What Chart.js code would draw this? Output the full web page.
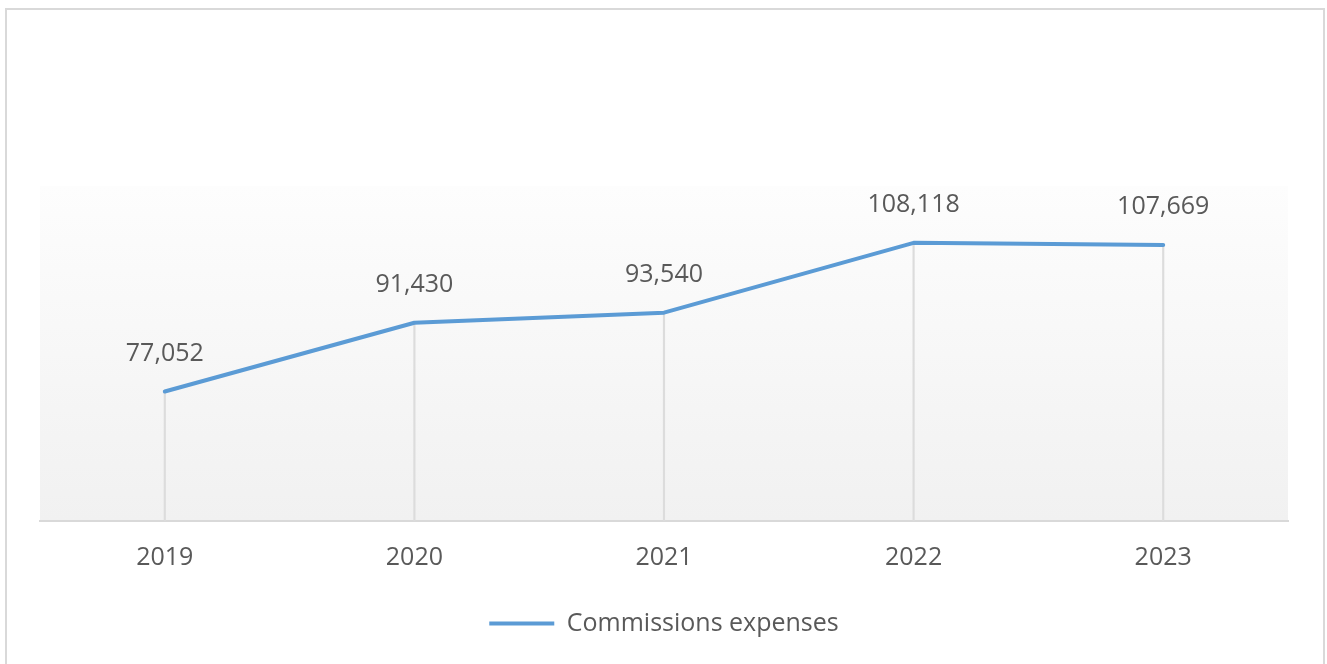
<!DOCTYPE html>
<html lang="en">
<head>
    <meta charset="UTF-8">
    <title>Commissions expenses</title>
    <script src="https://cdn.jsdelivr.net/npm/chart.js"></script>
    <style>
        html, body {
            margin: 0;
            padding: 0;
            background: #fff;
            overflow: hidden;
        }
        .frame {
            position: absolute;
            left: 5px;
            top: 8px;
            width: 1316px;
            height: 680px;
            border: 2px solid #d9d9d9;
        }
        .chart-container {
            position: absolute;
            left: 0;
            top: 0;
            width: 1327px;
            height: 664px;
        }
    </style>
</head>
<body>

<div class="frame"></div>
<div class="chart-container">
    <canvas id="commissionsChart" width="1327" height="664"></canvas>
</div>

<script>
const years = ['2019', '2020', '2021', '2022', '2023'];
const commissions = [77052, 91430, 93540, 108118, 107669];
const seriesLabel = 'Commissions expenses';

const lineColor = '#5b9bd5';
const textColor = '#595959';
const fontFamily = '"Open Sans", "Liberation Sans", sans-serif';

// soft vertical gradient behind the plot
const plotBackground = {
    id: 'plotBackground',
    beforeDraw(chart) {
        const { ctx, chartArea } = chart;
        const g = ctx.createLinearGradient(0, chartArea.top, 0, chartArea.bottom);
        g.addColorStop(0, '#fdfdfd');
        g.addColorStop(1, '#f1f1f1');
        ctx.save();
        ctx.fillStyle = g;
        ctx.fillRect(chartArea.left, chartArea.top,
            chartArea.right - chartArea.left, chartArea.bottom - chartArea.top);
        ctx.restore();
    }
};

// value labels above each point of the line
const pointLabels = {
    id: 'pointLabels',
    afterDatasetsDraw(chart) {
        const ctx = chart.ctx;
        const meta = chart.getDatasetMeta(1);
        ctx.save();
        ctx.font = '25px ' + fontFamily;
        ctx.fillStyle = textColor;
        ctx.textAlign = 'center';
        ctx.textBaseline = 'middle';
        meta.data.forEach((pt, i) => {
            ctx.fillText(commissions[i].toLocaleString('en-US'), pt.x, pt.y - 38);
        });
        ctx.restore();
    }
};

const ctx = document.getElementById('commissionsChart').getContext('2d');
new Chart(ctx, {
    data: {
        labels: years,
        datasets: [
            {
                // thin drop lines from each point down to the axis
                type: 'bar',
                label: 'drop',
                data: commissions,
                backgroundColor: '#dcdcdc',
                barThickness: 1.5,
                order: 2
            },
            {
                type: 'line',
                label: seriesLabel,
                data: commissions,
                borderColor: lineColor,
                backgroundColor: lineColor,
                borderWidth: 4,
                borderCapStyle: 'round',
                borderJoinStyle: 'round',
                pointRadius: 0,
                tension: 0,
                order: 1
            }
        ]
    },
    options: {
        responsive: false,
        animation: false,
        layout: {
            padding: { left: 40, right: 39, top: 186, bottom: 18 }
        },
        scales: {
            x: {
                offset: true,
                grid: { display: false, drawTicks: false },
                border: { display: true, color: '#d9d9d9', width: 2 },
                ticks: {
                    color: textColor,
                    padding: 22,
                    font: { size: 25, family: fontFamily }
                }
            },
            y: {
                display: false,
                min: 50000,
                max: 120000
            }
        },
        plugins: {
            tooltip: { enabled: false },
            legend: {
                position: 'bottom',
                labels: {
                    color: textColor,
                    boxWidth: 65,
                    boxHeight: 4,
                    padding: 16,
                    font: { size: 25, family: fontFamily },
                    generateLabels(chart) {
                        return [{
                            text: seriesLabel,
                            fillStyle: lineColor,
                            strokeStyle: lineColor,
                            lineWidth: 0,
                            fontColor: textColor,
                            datasetIndex: 1
                        }];
                    }
                }
            }
        }
    },
    plugins: [plotBackground, pointLabels]
});
</script>

</body>
</html>
